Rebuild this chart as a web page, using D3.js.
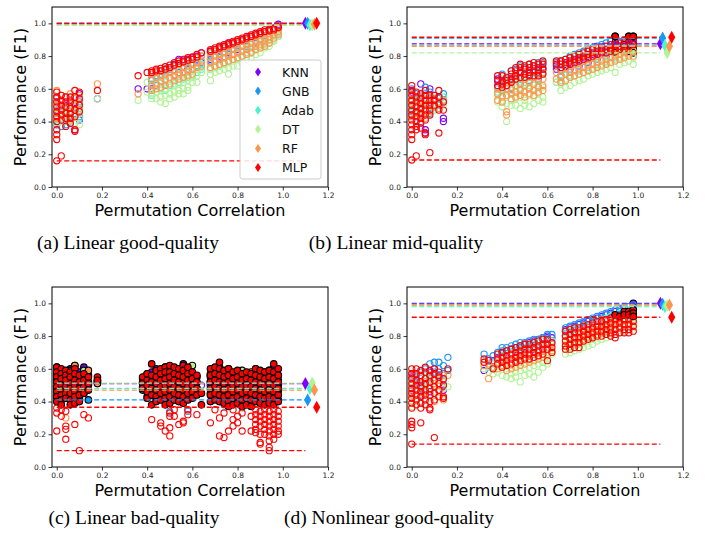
<!DOCTYPE html>
<html>
<head>
<meta charset="utf-8">
<script src="https://cdn.jsdelivr.net/npm/d3@7/dist/d3.min.js"></script>
<style>
  body { margin: 0; background: #fff; }
  text { font-family: "DejaVu Sans", sans-serif; }
</style>
</head>
<body>
<svg id="fig" width="705" height="538"></svg>
<script>
// classifiers, in drawing order (MLP last, on top)
const models = ["KNN", "GNB", "Adab", "DT", "RF", "MLP"];
const colors = ["#8000ff", "#1a96f3", "#4df3ce", "#b3f396", "#ff964f", "#ff0000"];
const diamondX = [1.10, 1.11, 1.12, 1.13, 1.14, 1.15];
const xTicks = [0, 0.2, 0.4, 0.6, 0.8, 1.0, 1.2];
const yTicks = [0, 0.2, 0.4, 0.6, 0.8, 1.0];

// each row: [permutation correlation, F1 values...]
// (a) Linear good-quality
const aKNN = [[0,0.55,0.47,0.40],[0.02,0.52,0.44],[0.04,0.50,0.41],[0.06,0.53,0.39],[0.08,0.35,0.48],[0.10,0.57,0.41],[0.18,0.54],[0.36,0.60],[0.40,0.60],[0.42,0.66,0.60],[0.44,0.70,0.62],[0.46,0.71],[0.48,0.72,0.65],[0.50,0.73],[0.52,0.75,0.68],[0.54,0.78,0.70],[0.56,0.77],[0.58,0.78,0.72],[0.60,0.79],[0.62,0.80,0.74],[0.64,0.82,0.76],[0.68,0.83,0.78],[0.70,0.84],[0.72,0.85,0.80],[0.74,0.86],[0.76,0.88,0.82],[0.78,0.88],[0.80,0.89,0.84],[0.82,0.90],[0.84,0.91,0.86],[0.86,0.92],[0.88,0.93,0.88],[0.90,0.94],[0.92,0.95,0.90],[0.94,0.96],[0.96,0.97],[0.98,0.995,0.97]];
const aGNB = [[0,0.52,0.43,0.38],[0.02,0.49,0.37],[0.04,0.45,0.38],[0.06,0.50,0.42],[0.08,0.45],[0.10,0.52,0.43],[0.42,0.65],[0.44,0.68],[0.46,0.69,0.64],[0.48,0.71],[0.50,0.72,0.67],[0.52,0.74],[0.54,0.75,0.70],[0.56,0.76],[0.58,0.77,0.72],[0.60,0.78],[0.62,0.79,0.74],[0.64,0.80],[0.68,0.82,0.77],[0.70,0.83],[0.72,0.84,0.79],[0.74,0.85],[0.76,0.86,0.81],[0.78,0.87],[0.80,0.88,0.83],[0.82,0.89],[0.84,0.90,0.85],[0.86,0.91],[0.88,0.92,0.87],[0.90,0.93],[0.92,0.94,0.89],[0.94,0.95],[0.96,0.96],[0.98,0.97,0.94]];
const aAdab = [[0,0.50,0.45,0.41],[0.02,0.47,0.42],[0.04,0.48,0.43],[0.06,0.46,0.40],[0.08,0.50,0.44],[0.10,0.48,0.42],[0.42,0.63,0.56],[0.44,0.66,0.58],[0.46,0.67,0.60],[0.48,0.68,0.59],[0.50,0.70,0.62],[0.52,0.71,0.63],[0.54,0.72,0.64],[0.56,0.73,0.66],[0.58,0.74,0.67],[0.60,0.75,0.68],[0.62,0.76,0.70],[0.64,0.75,0.72],[0.68,0.79,0.72],[0.70,0.80,0.73],[0.72,0.81,0.74],[0.74,0.82,0.76],[0.76,0.83,0.77],[0.78,0.84,0.78],[0.80,0.85,0.79],[0.82,0.86,0.80],[0.84,0.87,0.82],[0.86,0.88,0.83],[0.88,0.89,0.84],[0.90,0.90,0.86],[0.92,0.91,0.87],[0.94,0.92,0.88],[0.96,0.93,0.90],[0.98,0.95,0.92]];
const aDT = [[0,0.48,0.43,0.39],[0.02,0.45,0.40],[0.04,0.44,0.40],[0.06,0.47,0.41],[0.08,0.43,0.39],[0.10,0.45,0.38],[0.18,0.54],[0.36,0.53],[0.40,0.64,0.58],[0.42,0.62,0.57,0.54],[0.44,0.63,0.58,0.54],[0.46,0.64,0.59,0.55,0.52],[0.48,0.65,0.60,0.56,0.51],[0.50,0.66,0.61,0.57,0.54],[0.52,0.67,0.62,0.58,0.55],[0.54,0.68,0.63,0.59,0.57],[0.56,0.69,0.64,0.60,0.57],[0.58,0.70,0.65,0.61,0.59],[0.60,0.71,0.67,0.64],[0.62,0.72,0.68,0.64],[0.64,0.73,0.70],[0.68,0.76,0.72,0.69,0.65],[0.70,0.77,0.73,0.70],[0.72,0.78,0.74,0.71],[0.74,0.79,0.75,0.72],[0.76,0.80,0.76,0.73,0.69],[0.78,0.81,0.77,0.74],[0.80,0.82,0.78,0.74],[0.82,0.83,0.79,0.76],[0.84,0.85,0.81,0.78],[0.86,0.86,0.82,0.79],[0.88,0.87,0.84,0.81],[0.90,0.88,0.85,0.82],[0.92,0.90,0.87,0.85],[0.94,0.91,0.88,0.86],[0.96,0.92,0.90,0.89],[0.98,0.94,0.92]];
const aRF = [[0,0.59,0.54,0.50,0.45,0.42],[0.02,0.56,0.52,0.47,0.43],[0.04,0.55,0.51,0.46,0.42],[0.06,0.57,0.50,0.45,0.41],[0.08,0.54,0.49,0.44],[0.10,0.56,0.51,0.47],[0.18,0.63],[0.36,0.57],[0.42,0.69,0.66,0.62,0.59],[0.44,0.70,0.67,0.63,0.60],[0.46,0.71,0.68,0.65,0.61],[0.48,0.72,0.69,0.66,0.62],[0.50,0.73,0.70,0.67,0.63],[0.52,0.74,0.71,0.68,0.65],[0.54,0.75,0.72,0.69,0.66],[0.56,0.76,0.73,0.70,0.67],[0.58,0.77,0.74,0.71,0.68],[0.60,0.78,0.75,0.72,0.69],[0.62,0.79,0.76,0.73],[0.64,0.80,0.77,0.74],[0.68,0.82,0.79,0.76,0.73],[0.70,0.83,0.80,0.77,0.74],[0.72,0.84,0.81,0.78,0.75],[0.74,0.85,0.82,0.79,0.76],[0.76,0.86,0.83,0.80,0.77],[0.78,0.87,0.84,0.81,0.78],[0.80,0.88,0.85,0.82,0.79],[0.82,0.89,0.86,0.83,0.80],[0.84,0.90,0.87,0.84,0.81],[0.86,0.91,0.88,0.85,0.82],[0.88,0.92,0.89,0.86,0.84],[0.90,0.93,0.90,0.87,0.85],[0.92,0.94,0.91,0.88,0.86],[0.94,0.95,0.92,0.90,0.88],[0.96,0.96,0.93,0.91],[0.98,0.97,0.95,0.93]];
const aMLP = [[0,0.58,0.55,0.52,0.49,0.46,0.43,0.40,0.35,0.32,0.29,0.16],[0.02,0.56,0.53,0.50,0.47,0.44,0.41,0.19],[0.04,0.55,0.52,0.49,0.45,0.42,0.37],[0.06,0.55,0.52,0.48,0.45,0.42,0.39],[0.08,0.59,0.55,0.51,0.47,0.43,0.35,0.34],[0.10,0.58,0.54,0.50,0.46],[0.18,0.59],[0.36,0.68],[0.40,0.70],[0.42,0.71,0.70],[0.44,0.72,0.71],[0.46,0.725,0.71],[0.48,0.735,0.72],[0.50,0.745,0.73],[0.52,0.76,0.745],[0.54,0.77,0.755],[0.56,0.78,0.765],[0.58,0.79,0.775],[0.60,0.795,0.78],[0.62,0.81,0.795],[0.64,0.82],[0.68,0.84,0.83],[0.70,0.85,0.84],[0.72,0.86,0.85],[0.74,0.87,0.86],[0.76,0.88,0.87],[0.78,0.89,0.88],[0.80,0.90,0.89],[0.82,0.91,0.90],[0.84,0.92,0.91],[0.86,0.93,0.92],[0.88,0.94,0.93],[0.90,0.95,0.94],[0.92,0.96,0.95],[0.94,0.965,0.955],[0.96,0.97,0.96],[0.98,0.985,0.975]];
const aBase = [1.0, 1.0, 0.99, 0.99, 0.995, 1.0];
const aLow = 0.16;

// (b) Linear mid-quality
const bKNN = [[0,0.58,0.50,0.44],[0.02,0.55,0.46],[0.04,0.63,0.52,0.44],[0.06,0.56,0.35,0.33],[0.08,0.60,0.48],[0.10,0.53],[0.12,0.55,0.50],[0.14,0.42,0.40],[0.38,0.61,0.66],[0.40,0.64],[0.42,0.62],[0.44,0.66,0.60],[0.46,0.68],[0.48,0.70,0.63],[0.50,0.69],[0.52,0.71,0.65],[0.54,0.70],[0.56,0.72,0.66],[0.58,0.73],[0.64,0.74,0.72],[0.66,0.71,0.68],[0.68,0.75],[0.70,0.76,0.72],[0.72,0.77],[0.74,0.78,0.74],[0.76,0.79],[0.78,0.80,0.76],[0.80,0.81],[0.82,0.82,0.78],[0.84,0.83],[0.86,0.84,0.80],[0.88,0.85],[0.90,0.88,0.84],[0.92,0.86],[0.94,0.87,0.83],[0.96,0.88,0.85],[0.98,0.89,0.86]];
const bGNB = [[0,0.60,0.53,0.46],[0.02,0.57,0.49],[0.04,0.55,0.47,0.40],[0.06,0.61,0.51],[0.08,0.58,0.45],[0.10,0.56],[0.12,0.54],[0.14,0.57,0.52],[0.38,0.65],[0.40,0.69,0.62],[0.42,0.66],[0.44,0.71,0.64],[0.46,0.72],[0.48,0.74,0.66],[0.50,0.73],[0.52,0.75,0.68],[0.54,0.74],[0.56,0.76,0.70],[0.58,0.76,0.72],[0.64,0.76],[0.66,0.77,0.72],[0.68,0.78],[0.70,0.80,0.75],[0.72,0.81],[0.74,0.82,0.77],[0.76,0.83],[0.78,0.84,0.79],[0.80,0.85],[0.82,0.86,0.81],[0.84,0.87],[0.86,0.88,0.83],[0.88,0.89],[0.90,0.92,0.87],[0.92,0.89],[0.94,0.90,0.86],[0.96,0.92,0.88],[0.98,0.92,0.89]];
const bAdab = [[0,0.56,0.49],[0.02,0.53,0.46],[0.04,0.51,0.45],[0.06,0.54,0.48],[0.08,0.52],[0.10,0.49,0.47],[0.12,0.50],[0.14,0.55],[0.38,0.58],[0.40,0.60,0.56],[0.42,0.62],[0.44,0.63,0.57],[0.46,0.65],[0.48,0.66,0.60],[0.50,0.64],[0.52,0.67,0.61],[0.54,0.66],[0.56,0.68,0.62],[0.58,0.69],[0.64,0.64],[0.66,0.68,0.65],[0.68,0.72],[0.70,0.74,0.68],[0.72,0.75],[0.74,0.76,0.71],[0.76,0.77],[0.78,0.78,0.73],[0.80,0.79],[0.82,0.80,0.75],[0.84,0.81],[0.86,0.82,0.77],[0.88,0.83],[0.90,0.84,0.79],[0.92,0.84],[0.94,0.85,0.80],[0.96,0.85],[0.98,0.86,0.82]];
const bDT = [[0,0.52,0.47,0.43],[0.02,0.50,0.44],[0.04,0.49,0.43],[0.06,0.51,0.45],[0.08,0.47,0.44],[0.10,0.50],[0.12,0.48],[0.14,0.50],[0.38,0.56,0.52],[0.40,0.58,0.52,0.49],[0.42,0.55,0.51,0.40],[0.44,0.59,0.53,0.50],[0.46,0.60,0.54,0.50],[0.48,0.61,0.55,0.48],[0.50,0.59,0.53,0.50],[0.52,0.62,0.56,0.49],[0.54,0.60,0.55,0.51],[0.56,0.63,0.57,0.53],[0.58,0.61,0.55,0.52],[0.64,0.64],[0.66,0.63,0.59],[0.68,0.66,0.61],[0.70,0.67,0.62],[0.72,0.68,0.64],[0.74,0.69,0.65],[0.76,0.70,0.66],[0.78,0.71,0.68],[0.80,0.72,0.69],[0.82,0.74,0.70],[0.84,0.75,0.71],[0.86,0.76,0.72],[0.88,0.84,0.77,0.73],[0.90,0.82,0.78,0.70],[0.92,0.79,0.75],[0.94,0.84,0.80,0.76],[0.96,0.83,0.81,0.77],[0.98,0.84,0.82,0.79,0.75]];
const bRF = [[0,0.57,0.52,0.47,0.43],[0.02,0.55,0.50,0.45],[0.04,0.56,0.49,0.44],[0.06,0.53,0.48,0.42],[0.08,0.55,0.50,0.46],[0.10,0.54,0.49],[0.12,0.52,0.48],[0.14,0.53],[0.38,0.60,0.57,0.53],[0.40,0.63,0.59,0.55,0.52],[0.42,0.64,0.60,0.56,0.46,0.44],[0.44,0.65,0.61,0.57,0.54],[0.46,0.66,0.62,0.58,0.55],[0.48,0.67,0.63,0.59,0.56],[0.50,0.66,0.62,0.58,0.55],[0.52,0.68,0.64,0.60,0.57],[0.54,0.67,0.63,0.59,0.56],[0.56,0.69,0.65,0.61,0.58],[0.58,0.70,0.66,0.62,0.59],[0.64,0.70,0.66],[0.66,0.71,0.67,0.64],[0.68,0.73,0.69,0.65],[0.70,0.74,0.70,0.67],[0.72,0.75,0.71,0.68],[0.74,0.76,0.72,0.69],[0.76,0.77,0.73,0.70],[0.78,0.78,0.74,0.71],[0.80,0.79,0.75,0.72],[0.82,0.80,0.76,0.73],[0.84,0.81,0.77,0.74],[0.86,0.82,0.78,0.75],[0.88,0.83,0.79,0.76],[0.90,0.84,0.80,0.77],[0.92,0.84,0.81,0.78],[0.94,0.87,0.82,0.79],[0.96,0.85,0.82,0.80],[0.98,0.87,0.83,0.80]];
const bMLP = [[0,0.62,0.59,0.56,0.53,0.50,0.47,0.44,0.41,0.38,0.35,0.32,0.29,0.165],[0.02,0.58,0.55,0.52,0.49,0.46,0.43,0.40,0.37,0.35,0.19],[0.04,0.57,0.54,0.51,0.48,0.45,0.42,0.39,0.36],[0.06,0.59,0.56,0.53,0.50,0.47,0.44,0.41,0.33,0.32],[0.08,0.56,0.53,0.50,0.47,0.44,0.21],[0.10,0.56,0.53,0.50],[0.12,0.59,0.55,0.51,0.47,0.33],[0.14,0.52,0.47],[0.38,0.68,0.65,0.62],[0.40,0.68,0.65,0.63,0.61],[0.42,0.67,0.65,0.62],[0.44,0.71,0.69,0.66,0.64],[0.46,0.73,0.71,0.68,0.66],[0.48,0.75,0.73,0.70,0.67],[0.50,0.74,0.72,0.69,0.67],[0.52,0.75,0.73,0.70,0.68],[0.54,0.76,0.74,0.71,0.68],[0.56,0.75,0.73,0.71,0.68],[0.58,0.77,0.75,0.72,0.69],[0.64,0.77,0.75],[0.66,0.77,0.75,0.73],[0.68,0.78,0.76,0.74],[0.70,0.79,0.77,0.75],[0.72,0.80,0.78,0.76],[0.74,0.81,0.79,0.77],[0.76,0.82,0.80,0.78],[0.78,0.83,0.81,0.79],[0.80,0.84,0.82,0.80],[0.82,0.85,0.83,0.81],[0.84,0.85,0.84,0.82],[0.86,0.86,0.84,0.82],[0.88,0.87,0.85,0.83],[0.90,0.92,0.87,0.85,0.83],[0.92,0.88,0.86,0.84],[0.94,0.88,0.86,0.84],[0.96,0.92,0.88,0.86],[0.98,0.92,0.89,0.87]];
const bBase = [0.875, 0.91, 0.865, 0.82, 0.86, 0.915];
const bLow = 0.165;

// (c) Linear bad-quality
const cKNN = [[0,0.61,0.56],[0.02,0.59],[0.04,0.57,0.53],[0.06,0.60],[0.08,0.62,0.55],[0.10,0.58],[0.12,0.61],[0.14,0.56,0.47],[0.18,0.52],[0.38,0.52],[0.40,0.55],[0.42,0.58,0.53],[0.44,0.60],[0.46,0.57,0.54],[0.48,0.61],[0.50,0.59,0.55],[0.52,0.60],[0.54,0.56,0.53],[0.56,0.63],[0.58,0.58,0.54],[0.60,0.57],[0.62,0.55],[0.64,0.50],[0.68,0.57],[0.70,0.59,0.54],[0.72,0.61],[0.74,0.56,0.53],[0.76,0.58],[0.78,0.55],[0.80,0.57,0.52],[0.82,0.54],[0.84,0.56],[0.86,0.55,0.52],[0.88,0.60],[0.90,0.57,0.53],[0.92,0.55],[0.94,0.59],[0.96,0.61,0.54],[0.98,0.56]];
const cGNB = [[0,0.43,0.49],[0.02,0.41,0.52],[0.04,0.45],[0.06,0.42,0.50],[0.08,0.44],[0.10,0.47,0.42],[0.12,0.45],[0.14,0.41],[0.38,0.47],[0.40,0.43,0.51],[0.42,0.44],[0.44,0.41,0.49],[0.46,0.42],[0.48,0.40,0.45],[0.50,0.34,0.43],[0.52,0.41],[0.54,0.44,0.50],[0.56,0.42],[0.58,0.34,0.45],[0.60,0.43],[0.62,0.47],[0.68,0.45],[0.70,0.42,0.50],[0.72,0.44],[0.74,0.38,0.46],[0.76,0.43],[0.78,0.41,0.48],[0.80,0.44],[0.82,0.42],[0.84,0.45,0.50],[0.86,0.43],[0.88,0.41,0.47],[0.90,0.44],[0.92,0.42],[0.94,0.45],[0.96,0.43],[0.98,0.41,0.46]];
const cAdab = [[0,0.53],[0.02,0.50],[0.04,0.55],[0.06,0.49],[0.08,0.52],[0.10,0.56],[0.12,0.51],[0.18,0.53],[0.38,0.49],[0.40,0.53],[0.42,0.50],[0.44,0.55],[0.46,0.52],[0.48,0.49],[0.50,0.54],[0.52,0.51],[0.54,0.57],[0.56,0.50],[0.58,0.55],[0.60,0.48],[0.62,0.44],[0.68,0.52],[0.70,0.49],[0.72,0.54],[0.74,0.50],[0.76,0.53],[0.78,0.49],[0.80,0.52],[0.82,0.36,0.50],[0.84,0.54],[0.86,0.49],[0.88,0.52],[0.90,0.50],[0.92,0.53],[0.94,0.49],[0.96,0.51],[0.98,0.50]];
const cDT = [[0,0.55],[0.02,0.58],[0.04,0.52],[0.06,0.56],[0.08,0.57],[0.10,0.54],[0.12,0.59],[0.14,0.52],[0.38,0.54],[0.40,0.57],[0.42,0.53],[0.44,0.58],[0.46,0.55],[0.48,0.52],[0.50,0.56],[0.52,0.59],[0.54,0.53],[0.56,0.57],[0.58,0.60],[0.60,0.62],[0.62,0.44],[0.68,0.55],[0.70,0.58],[0.72,0.53],[0.74,0.56],[0.76,0.52],[0.78,0.57],[0.80,0.54],[0.82,0.59],[0.84,0.53],[0.86,0.56],[0.88,0.52],[0.90,0.55],[0.92,0.58],[0.94,0.53],[0.96,0.56],[0.98,0.44]];
const cRF = [[0,0.57,0.48],[0.02,0.54],[0.04,0.50,0.38,0.30],[0.06,0.59,0.52],[0.08,0.62,0.49],[0.10,0.55],[0.12,0.53],[0.14,0.59,0.50],[0.18,0.51],[0.38,0.51],[0.40,0.56,0.49],[0.42,0.53],[0.44,0.57,0.50],[0.46,0.59],[0.48,0.54,0.48],[0.50,0.56],[0.52,0.52,0.58],[0.54,0.55],[0.56,0.61,0.49],[0.58,0.53],[0.60,0.51],[0.62,0.48],[0.68,0.56,0.50],[0.70,0.59],[0.72,0.53,0.58],[0.74,0.55],[0.76,0.60,0.51],[0.78,0.54],[0.80,0.57,0.49],[0.82,0.52],[0.84,0.56],[0.86,0.58,0.50],[0.88,0.53],[0.90,0.55,0.49],[0.92,0.52],[0.94,0.54],[0.96,0.51],[0.98,0.53,0.48]];
const cMLP = [[0,0.61,0.58,0.55,0.52,0.49,0.46,0.43,0.40,0.36,0.33,0.22],[0.02,0.60,0.57,0.54,0.50,0.47,0.44,0.41,0.38,0.35,0.31],[0.04,0.59,0.56,0.53,0.49,0.45,0.42,0.34,0.25,0.23,0.17],[0.06,0.58,0.55,0.51,0.48,0.45,0.41,0.38],[0.08,0.60,0.57,0.53,0.50,0.46,0.43,0.39,0.26],[0.10,0.56,0.52,0.48,0.44,0.40,0.10],[0.12,0.57,0.53,0.49,0.45,0.32],[0.14,0.55,0.51,0.47,0.30],[0.18,0.55,0.53],[0.38,0.55,0.51,0.48],[0.40,0.57,0.53,0.50,0.46,0.42],[0.42,0.63,0.56,0.52,0.48,0.44,0.38,0.29],[0.44,0.59,0.55,0.51,0.47,0.43,0.40],[0.46,0.60,0.57,0.53,0.49,0.45,0.41,0.27,0.25],[0.48,0.61,0.58,0.54,0.50,0.46,0.42,0.38,0.22],[0.50,0.62,0.58,0.55,0.51,0.47,0.43,0.39,0.33,0.31,0.24,0.19],[0.52,0.61,0.57,0.53,0.49,0.45,0.41,0.35,0.31],[0.54,0.60,0.56,0.52,0.48,0.44,0.40,0.26],[0.56,0.62,0.59,0.55,0.51,0.47,0.43,0.39,0.28,0.27],[0.58,0.61,0.57,0.53,0.49,0.45,0.41,0.35,0.32],[0.60,0.58,0.54,0.50,0.46,0.42],[0.62,0.56,0.52,0.48,0.44,0.32],[0.64,0.45,0.38],[0.68,0.60,0.56,0.52,0.48,0.44,0.40,0.27],[0.70,0.61,0.57,0.53,0.49,0.45,0.41,0.35],[0.72,0.64,0.60,0.56,0.52,0.48,0.44,0.40,0.30,0.19],[0.74,0.59,0.55,0.51,0.47,0.43,0.39,0.33,0.18],[0.76,0.60,0.56,0.52,0.48,0.44,0.40,0.37,0.22],[0.78,0.58,0.54,0.50,0.46,0.42,0.38,0.35,0.29,0.25],[0.80,0.59,0.55,0.51,0.47,0.43,0.39,0.31,0.27],[0.82,0.57,0.53,0.49,0.45,0.41,0.37,0.33,0.22],[0.84,0.58,0.54,0.50,0.46,0.42,0.38],[0.86,0.57,0.53,0.49,0.45,0.41,0.37,0.31,0.22],[0.88,0.60,0.56,0.52,0.48,0.44,0.40,0.35,0.32,0.29,0.26,0.23,0.21],[0.90,0.59,0.55,0.51,0.47,0.43,0.39,0.34,0.31,0.28,0.25,0.20,0.15,0.14],[0.92,0.58,0.54,0.50,0.46,0.42,0.38,0.35,0.32,0.29,0.26,0.23,0.20],[0.94,0.59,0.55,0.51,0.47,0.43,0.39,0.34,0.31,0.28,0.25,0.22,0.19,0.16,0.12,0.10],[0.96,0.63,0.58,0.54,0.50,0.46,0.42,0.38,0.35,0.32,0.29,0.26,0.23,0.20,0.17],[0.98,0.60,0.56,0.52,0.48,0.44,0.40,0.34,0.31,0.28,0.25,0.22,0.20]];
const cBase = [0.51, 0.41, 0.48, 0.513, 0.47, 0.365];
const cLow = 0.10;

// (d) Nonlinear good-quality
const dKNN = [[0,0.55,0.47],[0.02,0.52],[0.04,0.50,0.44],[0.06,0.54],[0.08,0.58,0.46],[0.10,0.60],[0.12,0.56],[0.14,0.47,0.49],[0.32,0.59],[0.34,0.62],[0.36,0.65],[0.38,0.67],[0.40,0.70],[0.42,0.71,0.66],[0.44,0.72],[0.46,0.73,0.68],[0.48,0.74],[0.50,0.75,0.70],[0.52,0.76],[0.54,0.77,0.72],[0.56,0.78],[0.58,0.79,0.74],[0.60,0.80,0.79],[0.62,0.79],[0.68,0.84,0.80],[0.70,0.85],[0.72,0.86,0.82],[0.74,0.87],[0.76,0.88,0.84],[0.78,0.89],[0.80,0.90,0.86],[0.82,0.91],[0.84,0.92,0.88],[0.86,0.93],[0.88,0.94,0.90],[0.90,0.95],[0.92,0.96,0.92],[0.94,0.97],[0.96,0.98],[0.98,1.0,0.97]];
const dGNB = [[0,0.57,0.50],[0.02,0.55],[0.04,0.58,0.48],[0.06,0.60],[0.08,0.63,0.55],[0.10,0.64,0.58],[0.12,0.64,0.60],[0.14,0.62,0.57],[0.16,0.67,0.59],[0.32,0.69],[0.34,0.66],[0.36,0.68],[0.38,0.70],[0.40,0.73,0.71],[0.42,0.73],[0.44,0.74,0.72],[0.46,0.75],[0.48,0.76,0.73],[0.50,0.76],[0.52,0.77,0.74],[0.54,0.78],[0.56,0.78,0.76],[0.58,0.79],[0.60,0.81,0.78],[0.62,0.81],[0.68,0.85,0.83],[0.70,0.86],[0.72,0.87,0.85],[0.74,0.88],[0.76,0.89,0.87],[0.78,0.90],[0.80,0.91,0.89],[0.82,0.92],[0.84,0.93,0.91],[0.86,0.94],[0.88,0.95,0.93],[0.90,0.96],[0.92,0.97,0.95],[0.94,0.975],[0.96,0.98],[0.98,0.99,0.97]];
const dAdab = [[0,0.52,0.45],[0.02,0.54],[0.04,0.51],[0.06,0.56,0.49],[0.08,0.53],[0.10,0.57,0.51],[0.12,0.55],[0.14,0.52],[0.32,0.64],[0.34,0.61],[0.36,0.63],[0.38,0.66],[0.40,0.68,0.62],[0.42,0.69],[0.44,0.70,0.64],[0.46,0.71],[0.48,0.72,0.66],[0.50,0.73],[0.52,0.74,0.68],[0.54,0.75],[0.56,0.76,0.70],[0.58,0.77],[0.60,0.78,0.73],[0.62,0.77],[0.68,0.82,0.77],[0.70,0.83],[0.72,0.84,0.79],[0.74,0.85],[0.76,0.86,0.81],[0.78,0.87],[0.80,0.88,0.83],[0.82,0.89],[0.84,0.90,0.85],[0.86,0.91],[0.88,0.92,0.87],[0.90,0.93],[0.92,0.94,0.89],[0.94,0.95],[0.96,0.96],[0.98,0.97,0.93]];
const dDT = [[0,0.48,0.42,0.37],[0.02,0.46,0.40],[0.04,0.45,0.39],[0.06,0.47,0.42],[0.08,0.49,0.44],[0.10,0.46],[0.12,0.50],[0.14,0.48],[0.16,0.49],[0.32,0.60],[0.34,0.58],[0.36,0.60,0.57],[0.38,0.62,0.58],[0.40,0.61,0.56],[0.42,0.60,0.55],[0.44,0.62,0.57,0.54],[0.46,0.63,0.58,0.55],[0.48,0.64,0.59,0.52],[0.50,0.65,0.60,0.56],[0.52,0.66,0.61,0.57],[0.54,0.67,0.62,0.55],[0.56,0.68,0.63,0.58],[0.58,0.69,0.64,0.61],[0.60,0.70,0.66,0.63],[0.62,0.71,0.69],[0.68,0.75,0.72,0.69],[0.70,0.76,0.73,0.70],[0.72,0.77,0.74,0.71],[0.74,0.78,0.75,0.72],[0.76,0.79,0.76,0.73],[0.78,0.80,0.77,0.74],[0.80,0.81,0.78,0.75],[0.82,0.82,0.79,0.77],[0.84,0.84,0.81,0.78],[0.86,0.85,0.82,0.79],[0.88,0.86,0.83,0.80],[0.90,0.87,0.84,0.81],[0.92,0.88,0.85,0.82],[0.94,0.89,0.86,0.83],[0.96,0.90,0.87,0.84],[0.98,0.91,0.88,0.85]];
const dRF = [[0,0.56,0.50,0.44],[0.02,0.53,0.47],[0.04,0.55,0.49,0.43],[0.06,0.52,0.46],[0.08,0.54,0.48],[0.10,0.51,0.40],[0.12,0.53,0.46],[0.14,0.56,0.42,0.41],[0.16,0.56],[0.32,0.62],[0.34,0.54,0.63],[0.36,0.61],[0.38,0.64,0.60],[0.40,0.66,0.62],[0.42,0.67,0.63,0.59],[0.44,0.68,0.64,0.60],[0.46,0.69,0.65,0.61],[0.48,0.70,0.66,0.62],[0.50,0.71,0.67,0.63],[0.52,0.72,0.68,0.64],[0.54,0.73,0.69,0.65],[0.56,0.74,0.70,0.66],[0.58,0.75,0.71,0.67],[0.60,0.76,0.72,0.68],[0.62,0.75,0.71],[0.68,0.80,0.77,0.74],[0.70,0.81,0.78,0.75],[0.72,0.82,0.79,0.76],[0.74,0.83,0.80,0.77],[0.76,0.84,0.81,0.78],[0.78,0.85,0.82,0.79],[0.80,0.86,0.83,0.80],[0.82,0.87,0.84,0.81],[0.84,0.88,0.85,0.82],[0.86,0.89,0.86,0.83],[0.88,0.90,0.87,0.84],[0.90,0.91,0.88,0.85],[0.92,0.92,0.89,0.86],[0.94,0.93,0.90,0.87],[0.96,0.94,0.91,0.88],[0.98,0.95,0.92,0.89]];
const dMLP = [[0,0.60,0.57,0.54,0.51,0.48,0.45,0.42,0.39,0.36,0.28,0.26,0.24,0.14],[0.02,0.60,0.57,0.53,0.50,0.47,0.44,0.41,0.38],[0.04,0.59,0.56,0.52,0.49,0.46,0.43,0.39,0.36,0.27],[0.06,0.61,0.58,0.54,0.51,0.47,0.44,0.41,0.38],[0.08,0.59,0.56,0.52,0.48,0.44,0.40,0.36,0.35],[0.10,0.60,0.57,0.53,0.49,0.45,0.41,0.18],[0.12,0.58,0.55,0.51,0.47,0.43],[0.14,0.54,0.50,0.43,0.42],[0.16,0.60],[0.32,0.66,0.64],[0.34,0.65],[0.36,0.60],[0.38,0.69,0.66,0.63],[0.40,0.70,0.67,0.64,0.61],[0.42,0.71,0.68,0.65,0.62],[0.44,0.72,0.69,0.66,0.63],[0.46,0.73,0.70,0.67,0.64],[0.48,0.74,0.71,0.68,0.65],[0.50,0.75,0.72,0.69,0.66],[0.52,0.75,0.72,0.69,0.66],[0.54,0.76,0.73,0.70,0.67],[0.56,0.77,0.74,0.71,0.68],[0.58,0.78,0.75,0.72,0.69],[0.60,0.78,0.75,0.72,0.65],[0.62,0.76,0.73,0.70],[0.68,0.83,0.80,0.77,0.74,0.72],[0.70,0.84,0.81,0.78,0.75,0.72],[0.72,0.85,0.82,0.79,0.76,0.73],[0.74,0.85,0.82,0.79,0.76,0.73],[0.76,0.86,0.83,0.80,0.77],[0.78,0.87,0.84,0.81,0.78],[0.80,0.88,0.85,0.82,0.79],[0.82,0.89,0.86,0.83,0.80],[0.84,0.89,0.86,0.83,0.80],[0.86,0.90,0.87,0.84,0.81],[0.88,0.91,0.88,0.85,0.82,0.80],[0.90,0.93,0.90,0.87,0.84,0.81,0.79],[0.92,0.92,0.91,0.88,0.85,0.82],[0.94,0.95,0.93,0.90,0.87,0.84,0.82],[0.96,0.95,0.93,0.90,0.87,0.84,0.82],[0.98,0.96,0.94,0.92,0.89,0.86,0.83]];
const dBase = [1.0, 0.995, 0.98, 0.985, 0.99, 0.915];
const dLow = 0.14;

const panels = [
    { left: 52,  top: 7,   series: [aKNN, aGNB, aAdab, aDT, aRF, aMLP], base: aBase, low: aLow,
      caption: "(a) Linear good-quality", capX: 128, capY: 249, legend: true },
    { left: 407, top: 7,   series: [bKNN, bGNB, bAdab, bDT, bRF, bMLP], base: bBase, low: bLow,
      caption: "(b) Linear mid-quality", capX: 396, capY: 249 },
    { left: 52,  top: 287, series: [cKNN, cGNB, cAdab, cDT, cRF, cMLP], base: cBase, low: cLow,
      caption: "(c) Linear bad-quality", capX: 134, capY: 524 },
    { left: 407, top: 287, series: [dKNN, dGNB, dAdab, dDT, dRF, dMLP], base: dBase, low: dLow,
      caption: "(d) Nonlinear good-quality", capX: 389, capY: 524 }
];

const W = 276, H = 180;
const svg = d3.select("#fig");

function diamond(w, h) {
    return "M0," + (-h) + "L" + w + ",0L0," + h + "L" + (-w) + ",0Z";
}

panels.forEach(function(p, pi) {
    const x = d3.scaleLinear().domain([-0.021, 1.2]).range([0, W]);
    const y = d3.scaleLinear().domain([0, 1.1]).range([H, 0]);

    const g = svg.append("g").attr("transform", "translate(" + p.left + "," + p.top + ")");

    g.append("clipPath").attr("id", "clip" + pi)
        .append("rect").attr("width", W).attr("height", H);
    const plot = g.append("g").attr("clip-path", "url(#clip" + pi + ")");

    // scatter: open circles, filled with black edge when above the classifier's baseline
    p.series.forEach(function(rows, m) {
        const pts = [];
        rows.forEach(function(r) {
            for (let k = 1; k < r.length; k++) pts.push({ x: r[0], y: r[k] });
        });
        plot.append("g").selectAll("circle")
            .data(pts)
            .join("circle")
            .attr("cx", d => x(d.x))
            .attr("cy", d => y(d.y))
            .attr("r", d => d.y >= p.base[m] ? 3.3 : 3.1)
            .attr("fill", d => d.y >= p.base[m] ? colors[m] : "none")
            .attr("stroke", d => d.y >= p.base[m] ? "#000" : colors[m])
            .attr("stroke-width", 1.1);
    });

    // baseline dashed lines
    p.base.forEach(function(b, m) {
        plot.append("line")
            .attr("x1", x(0)).attr("x2", x(1.1))
            .attr("y1", y(b)).attr("y2", y(b))
            .attr("stroke", colors[m])
            .attr("stroke-width", 1.3)
            .attr("stroke-dasharray", "5,2.5");
    });
    plot.append("line")
        .attr("x1", x(0)).attr("x2", x(1.1))
        .attr("y1", y(p.low)).attr("y2", y(p.low))
        .attr("stroke", colors[5])
        .attr("stroke-width", 1.3)
        .attr("stroke-dasharray", "5,2.5");

    // baseline diamonds
    plot.append("g").selectAll("path")
        .data(p.base)
        .join("path")
        .attr("d", diamond(3.6, 6.5))
        .attr("transform", (d, m) => "translate(" + x(diamondX[m]) + "," + y(d) + ")")
        .attr("fill", (d, m) => colors[m]);

    // axes
    const xa = g.append("g").attr("transform", "translate(0," + H + ")")
        .call(d3.axisBottom(x).tickValues(xTicks).tickFormat(d3.format(".1f"))
            .tickSizeInner(3.5).tickSizeOuter(0).tickPadding(2));
    const ya = g.append("g")
        .call(d3.axisLeft(y).tickValues(yTicks).tickFormat(d3.format(".1f"))
            .tickSizeInner(3.5).tickSizeOuter(0).tickPadding(2.5));
    [xa, ya].forEach(function(a) {
        a.select(".domain").remove();
        a.selectAll("text").attr("font-size", "7.5px").attr("fill", "#222")
            .attr("font-family", "DejaVu Sans");
        a.selectAll("line").attr("stroke", "#000").attr("stroke-width", 0.8);
    });

    g.append("rect").attr("width", W).attr("height", H)
        .attr("fill", "none").attr("stroke", "#000").attr("stroke-width", 1);

    g.append("text")
        .attr("x", W / 2).attr("y", H + 29)
        .attr("text-anchor", "middle")
        .attr("font-size", "16px")
        .text("Permutation Correlation");

    g.append("text")
        .attr("transform", "translate(-26," + (H / 2) + ") rotate(-90)")
        .attr("text-anchor", "middle")
        .attr("font-size", "16px")
        .text("Performance (F1)");

    svg.append("text")
        .attr("x", p.capX).attr("y", p.capY)
        .attr("text-anchor", "middle")
        .style("font-family", "'Liberation Serif', serif")
        .attr("font-size", "19.5px")
        .text(p.caption);

    if (p.legend) {
        const lg = g.append("g").attr("transform", "translate(188,53)");
        lg.append("rect")
            .attr("width", 81).attr("height", 119).attr("rx", 2.5)
            .attr("fill", "#fff").attr("fill-opacity", 0.85)
            .attr("stroke", "#ccc").attr("stroke-width", 1);
        models.forEach(function(name, m) {
            const cy = 12 + m * 19.1;
            lg.append("path")
                .attr("d", diamond(3, 4.5))
                .attr("transform", "translate(18," + cy + ")")
                .attr("fill", colors[m]);
            lg.append("text")
                .attr("x", 42).attr("y", cy + 4.5)
                .attr("font-size", "12.5px")
                .attr("fill", "#111")
                .text(name);
        });
    }
});
</script>
</body>
</html>
